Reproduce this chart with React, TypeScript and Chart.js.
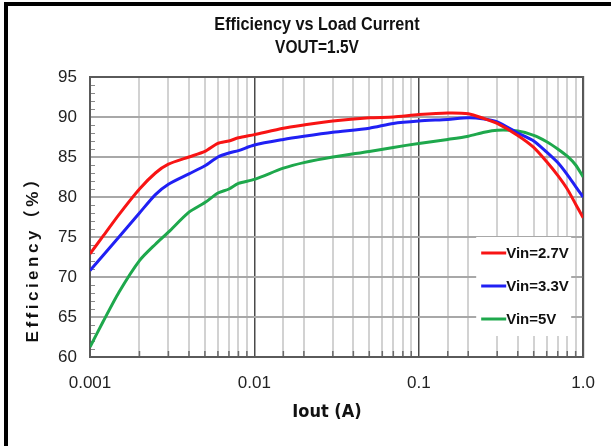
import React, { useEffect, useRef } from 'react';
import { Chart, registerables } from 'chart.js';

Chart.register(...registerables);

// ---- data ----
const ioutA = [
  0.001, 0.0012, 0.0015, 0.002, 0.0025, 0.003, 0.004, 0.005, 0.006, 0.007, 0.008,
  0.01, 0.015, 0.02, 0.03, 0.05, 0.07, 0.1, 0.15, 0.2, 0.25, 0.3, 0.4, 0.5, 0.6,
  0.7, 0.8, 0.9, 1.0,
];
const effVin27 = [
  72.9, 75.1, 77.8, 81.0, 83.0, 84.1, 85.0, 85.7, 86.7, 87.0, 87.4,
  87.8, 88.6, 89.0, 89.5, 89.9, 90.0, 90.3, 90.5, 90.4, 89.8, 89.2, 87.7, 86.2, 84.4,
  82.7, 81.0, 79.1, 77.4,
];
const effVin33 = [
  70.8, 72.7, 75.0, 78.0, 80.3, 81.6, 82.9, 83.9, 85.0, 85.5, 85.8,
  86.5, 87.2, 87.6, 88.1, 88.6, 89.2, 89.5, 89.7, 89.9, 89.75, 89.4, 88.0, 87.0, 85.6,
  84.3, 82.8, 81.3, 80.0,
];
const effVin50 = [
  61.25, 64.4, 68.1, 72.05, 74.1, 75.6, 78.1, 79.3, 80.5, 81.0, 81.7,
  82.2, 83.6, 84.3, 85.0, 85.7, 86.2, 86.7, 87.2, 87.6, 88.1, 88.35, 88.25, 87.7, 86.9,
  86.0, 85.1, 84.0, 82.5,
];
const seriesLabels = ['Vin=2.7V', 'Vin=3.3V', 'Vin=5V'];
const seriesColors = ['#f81414', '#2020f4', '#1ea84c'];
const xTickValues = [0.001, 0.01, 0.1, 1];
const xTickLabels = ['0.001', '0.01', '0.1', '1.0'];
const yTickValues = [60, 65, 70, 75, 80, 85, 90, 95];
const chartTitle = ['Efficiency vs Load Current', 'VOUT=1.5V'];
const xAxisTitle = 'Iout (A)';
const yAxisTitle = 'Efficiency（%）';

// ---- style ----
const NARROW = "'Liberation Sans Narrow','Arial Narrow','Liberation Sans',Arial,sans-serif";
const WIDE = "'Liberation Sans',Arial,'Noto Sans CJK SC',sans-serif";

const isDecade = (v: number) => {
  const l = Math.log10(v);
  return Math.abs(l - Math.round(l)) < 1e-6;
};

const decorPlugin = {
  id: 'decor',
  beforeDraw(chart: any) {
    const { ctx, width, height } = chart;
    ctx.save();
    ctx.fillStyle = '#ffffff';
    ctx.fillRect(0, 0, width, height);
    ctx.fillStyle = '#000000';
    ctx.fillRect(4, 2, width - 4, 4);
    ctx.fillRect(4, 2, 4, height - 2);
    ctx.restore();
  },
  beforeDatasetsDraw(chart: any) {
    const { ctx, chartArea: a, scales } = chart;
    ctx.save();
    // minor ticks on left axis
    ctx.strokeStyle = '#8a8a8a';
    ctx.lineWidth = 1;
    for (let v = yTickValues[0]; v <= yTickValues[yTickValues.length - 1]; v++) {
      if (v % 5 === 0) continue;
      const y = Math.round(scales.y.getPixelForValue(v)) + 0.5;
      ctx.beginPath();
      ctx.moveTo(a.left, y);
      ctx.lineTo(a.left + 5, y);
      ctx.stroke();
    }
    // minor ticks on bottom axis
    ctx.strokeStyle = '#6a6a6a';
    ctx.lineWidth = 1.5;
    scales.x.ticks.forEach((t: any) => {
      if (isDecade(t.value)) return;
      const x = scales.x.getPixelForValue(t.value);
      ctx.beginPath();
      ctx.moveTo(x, a.bottom);
      ctx.lineTo(x, a.bottom - 6);
      ctx.stroke();
    });
    // plot frame
    ctx.strokeStyle = '#5a5a5a';
    ctx.lineWidth = 2;
    ctx.strokeRect(a.left, a.top, a.right - a.left, a.bottom - a.top);
    ctx.restore();
  },
  afterDatasetsDraw(chart: any) {
    const { ctx, chartArea: a } = chart;
    ctx.save();
    const bx = a.right - 107;
    const by = a.bottom - 120;
    ctx.fillStyle = '#ffffff';
    ctx.fillRect(bx, by, 95, 99);
    chart.data.datasets.forEach((ds: any, i: number) => {
      const y = by + 16 + i * 33;
      ctx.strokeStyle = ds.borderColor;
      ctx.lineWidth = 3;
      ctx.beginPath();
      ctx.moveTo(bx + 5, y);
      ctx.lineTo(bx + 30, y);
      ctx.stroke();
      ctx.fillStyle = '#111';
      ctx.font = `bold 15px ${NARROW}`;
      ctx.textAlign = 'left';
      ctx.textBaseline = 'middle';
      ctx.fillText(ds.label, bx + 30, y + 1);
    });
    ctx.restore();
  },
  afterDraw(chart: any) {
    const { ctx } = chart;
    ctx.save();
    ctx.fillStyle = '#111';
    ctx.textAlign = 'center';
    ctx.textBaseline = 'middle';
    ctx.font = `bold 18px ${NARROW}`;
    ctx.save();
    ctx.translate(317, 25);
    ctx.scale(0.9, 1.05);
    ctx.fillText(chartTitle[0], 0, 0);
    ctx.restore();
    ctx.save();
    ctx.translate(317, 48);
    ctx.scale(0.86, 1.05);
    ctx.fillText(chartTitle[1], 0, 0);
    ctx.restore();
    ctx.font = `bold 18px 'DejaVu Sans Condensed','DejaVu Sans',sans-serif`;
    ctx.fillText(xAxisTitle, 327, 412);
    ctx.translate(33, 255);
    ctx.rotate(-Math.PI / 2);
    ctx.font = `bold 17px ${WIDE}`;
    (ctx as any).letterSpacing = '3.5px';
    ctx.fillText(yAxisTitle, 0, 0);
    ctx.restore();
  },
};

export default function App() {
  const ref = useRef<HTMLCanvasElement | null>(null);
  useEffect(() => {
    if (!ref.current) return;
    const effs = [effVin27, effVin33, effVin50];
    const chart = new Chart(ref.current, {
      type: 'line',
      data: {
        datasets: effs.map((e, i) => ({
          label: seriesLabels[i],
          data: ioutA.map((x, j) => ({ x, y: e[j] })),
          borderColor: seriesColors[i],
          backgroundColor: seriesColors[i],
          borderWidth: 3,
          pointRadius: 0,
          tension: 0.25,
          fill: false,
        })),
      },
      options: {
        responsive: false,
        animation: false,
        layout: { padding: { left: 0, right: 26, top: 77, bottom: 0 } },
        plugins: { legend: { display: false }, title: { display: false }, tooltip: { enabled: false } },
        scales: {
          x: {
            type: 'logarithmic',
            min: xTickValues[0],
            max: xTickValues[xTickValues.length - 1],
            afterFit: (s: any) => { s.height = 89; },
            border: { display: false },
            grid: {
              drawTicks: false,
              color: (c: any) => (c.tick && isDecade(c.tick.value) ? '#4a4a4a' : '#d2d2d2'),
              lineWidth: (c: any) => (c.tick && isDecade(c.tick.value) ? 1.5 : 2),
            },
            ticks: {
              autoSkip: false,
              maxRotation: 0,
              padding: 16,
              color: '#222',
              font: { size: 17, family: NARROW },
              callback: (v: any) => {
                const k = xTickValues.findIndex((t) => Math.abs(Math.log10(t) - Math.log10(Number(v))) < 1e-6);
                return k >= 0 ? xTickLabels[k] : '';
              },
            },
          },
          y: {
            type: 'linear',
            min: yTickValues[0],
            max: yTickValues[yTickValues.length - 1],
            afterFit: (s: any) => { s.width = 90; },
            afterBuildTicks: (s: any) => { s.ticks = yTickValues.map((v) => ({ value: v })); },
            border: { display: false },
            grid: { drawTicks: false, color: '#a8a8a8', lineWidth: 2 },
            ticks: {
              padding: 13,
              color: '#222',
              font: { size: 17, family: NARROW },
            },
          },
        },
      },
      plugins: [decorPlugin],
    } as any);
    return () => chart.destroy();
  }, []);
  return (
    <div style={{ position: 'fixed', left: 0, top: 0, width: 611, height: 446, background: '#fff' }}>
      <canvas ref={ref} width={611} height={446} style={{ display: 'block' }} />
    </div>
  );
}
